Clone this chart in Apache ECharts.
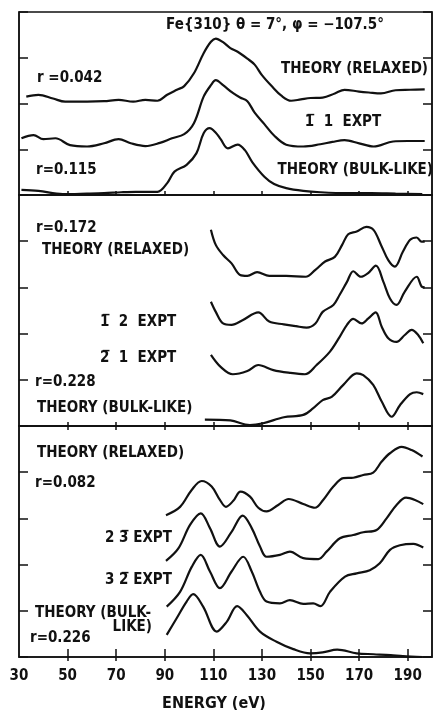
<!DOCTYPE html>
<html>
<head>
<meta charset="utf-8">
<script src="https://cdn.jsdelivr.net/npm/echarts@6/dist/echarts.min.js"></script>
<style>
  html, body { margin: 0; background: #fff; }
  #chart { width: 435px; height: 710px; }
</style>
</head>
<body>
<div id="chart"></div>
<script>
// energy axis (eV)
const energyLabels = [30, 50, 70, 90, 110, 130, 150, 170, 190];
const energyTicks = [50, 70, 90, 110, 130, 150, 170, 190];

// panel 1: [energy, intensity offset]
const p1Relaxed = [[33,2.15],[38,2.19],[44,2.11],[49,2.04],[58,2.04],[65,2.05],[71,2.08],[77,2.04],[82,2.08],[87,2.06],[91,2.19],[95,2.30],[98,2.38],[102,2.66],[106,3.10],[109,3.35],[111,3.42],[114,3.34],[117,3.21],[120,3.13],[124,2.98],[127,2.85],[130,2.62],[134,2.38],[138,2.17],[142,2.06],[146,2.09],[150,2.12],[155,2.13],[160,2.22],[164,2.30],[170,2.26],[174,2.24],[179,2.22],[185,2.29],[191,2.30],[197,2.31]];
const p1Expt = [[31,1.24],[36,1.31],[40,1.22],[45,1.24],[51,1.09],[58,1.06],[65,1.13],[71,1.22],[76,1.13],[82,1.07],[88,1.14],[93,1.24],[98,1.33],[102,1.57],[106,2.15],[109,2.40],[111,2.51],[114,2.40],[118,2.23],[121,2.13],[124,2.05],[127,1.80],[131,1.55],[135,1.30],[140,1.10],[147,1.06],[154,1.11],[159,1.16],[164,1.20],[170,1.13],[176,1.06],[184,1.17],[190,1.18],[197,1.18]];
const p1Bulk = [[31,0.11],[38,0.09],[48,0.02],[58,0.03],[65,0.04],[72,0.06],[78,0.07],[87,0.07],[91,0.26],[94,0.51],[99,0.66],[103,0.91],[106,1.35],[108.5,1.46],[111,1.36],[113,1.22],[116,1.02],[120,1.10],[123,0.98],[126,0.72],[131,0.40],[135,0.24],[140,0.15],[147,0.09],[154,0.06],[165,0.04],[175,0.04],[185,0.03],[196,0.02]];

// panel 2
const p2Relaxed = [[109,4.25],[111,3.92],[114,3.70],[117.5,3.52],[121,3.27],[124,3.25],[128,3.33],[133,3.25],[140,3.25],[148,3.23],[152,3.38],[156,3.56],[160,3.66],[163,3.92],[165.5,4.15],[169,4.21],[173,4.31],[176,4.24],[179,3.92],[182,3.59],[184.7,3.45],[188,3.77],[191,4.03],[193.7,4.08],[195.7,3.99],[197,3.99]];
const p2Expt12 = [[109,2.69],[111,2.47],[114,2.22],[117.5,2.19],[122,2.29],[128.5,2.46],[133,2.26],[139,2.20],[144,2.16],[148.4,2.13],[152,2.22],[155,2.47],[159.4,2.62],[162,2.84],[165,3.12],[167.6,3.35],[170.7,3.23],[173.7,3.31],[176.9,3.47],[180,3.12],[182.7,2.76],[185.4,2.62],[188.8,2.91],[193.7,3.23],[195.7,3.02],[197,3.00]];
const p2Expt21 = [[109,1.54],[113,1.28],[118,1.12],[124,1.19],[128.5,1.32],[134.7,1.21],[141.5,1.15],[147.7,1.12],[152.5,1.32],[158,1.61],[162,1.93],[165,2.19],[167.6,2.32],[171,2.22],[173.8,2.33],[176.8,2.46],[179.3,2.15],[182,1.90],[185.4,1.82],[188.8,1.97],[191.6,2.08],[194.3,1.97],[196.4,1.79]];
const p2Bulk = [[106.5,0.14],[117,0.12],[125,0.02],[130.5,0.06],[139,0.19],[147,0.24],[151,0.38],[155,0.56],[158.7,0.63],[163.5,0.89],[169,1.14],[171.7,1.10],[175.8,0.89],[179.3,0.53],[183.4,0.20],[186.8,0.45],[191,0.69],[193.7,0.73],[196.4,0.69]];

// panel 3
const p3Relaxed = [[90.5,3.07],[96.3,3.25],[101,3.61],[105.2,3.81],[109.3,3.69],[112.7,3.40],[115.2,3.25],[118.2,3.38],[121.2,3.58],[125.1,3.47],[128.5,3.23],[131.9,3.15],[136.7,3.29],[141,3.42],[147,3.31],[151.8,3.23],[155.2,3.40],[159.4,3.69],[163.5,3.87],[167.6,3.88],[171.7,3.94],[175.8,3.99],[179.3,4.23],[182.7,4.41],[187.5,4.55],[191.6,4.48],[196.1,4.34]];
const p3Expt23 = [[90.5,2.08],[95.6,2.35],[100.4,2.86],[104.8,3.11],[108.6,2.79],[112.7,2.39],[117.5,2.71],[122.1,3.06],[125.8,2.79],[129.2,2.39],[131.9,2.17],[137.4,2.21],[141.5,2.28],[147,2.14],[153.2,2.12],[156.6,2.28],[162.1,2.57],[167.6,2.64],[171.7,2.70],[177.2,2.75],[181.3,3.00],[185.4,3.29],[189.3,3.45],[193,3.40],[196.4,3.31]];
const p3Expt32 = [[90.8,1.09],[96.3,1.41],[101.1,1.95],[104.8,2.21],[108.6,1.85],[112.7,1.49],[117.5,1.85],[122.3,2.17],[125.8,1.85],[129.2,1.41],[131.9,1.20],[137.4,1.16],[141.5,1.23],[147,1.15],[151.1,1.16],[154.1,1.10],[158,1.41],[164.2,1.74],[169,1.81],[174.4,1.88],[178.5,2.03],[182.7,2.32],[186.8,2.42],[192.3,2.45],[196.4,2.37]];
const p3Bulk = [[90.8,0.48],[94.9,0.84],[99,1.20],[101.7,1.36],[105.8,1.09],[111.4,0.55],[115.5,0.76],[119.8,1.10],[123.7,0.91],[129.2,0.55],[136,0.33],[142.9,0.17],[149.8,0.08],[155,0.10],[161,0.16],[169,0.08],[176,0.06],[183,0.04],[188,0.02],[196,0.00]];

const panelMax = [4, 5, 5];
const curves = [
  [0, p1Relaxed], [0, p1Expt], [0, p1Bulk],
  [1, p2Relaxed], [1, p2Expt12], [1, p2Expt21], [1, p2Bulk],
  [2, p3Relaxed], [2, p3Expt23], [2, p3Expt32], [2, p3Bulk]
];

const ink = '#111';
const font = '"DejaVu Sans Condensed", "DejaVu Sans"';

const myChart = echarts.init(document.getElementById('chart'));

const grids = [
  { left: 19, right: 3, top: 12, height: 183 },
  { left: 19, right: 3, top: 195, height: 231 },
  { left: 19, right: 3, top: 426, height: 231 }
].map(g => Object.assign(g, { show: true, borderColor: ink, borderWidth: 1.5, backgroundColor: 'transparent' }));

const xAxes = [];
const yAxes = [];
grids.forEach((g, i) => {
  const last = i === grids.length - 1;
  xAxes.push({
    type: 'value', gridIndex: i, min: 30, max: 200, position: 'bottom',
    axisLine: { show: true, lineStyle: { color: ink, width: 1.5 } },
    axisTick: { show: true, inside: true, length: last ? 8 : 4, customValues: energyTicks, lineStyle: { color: ink, width: 1.5 } },
    axisLabel: last ? { show: true, customValues: energyLabels, fontFamily: font, fontWeight: 'bold', fontSize: 15, color: ink, margin: 12 } : { show: false },
    splitLine: { show: false }
  });
  if (i > 0) {
    xAxes.push({
      type: 'value', gridIndex: i, min: 30, max: 200, position: 'top',
      axisLine: { show: false },
      axisTick: { show: true, inside: true, length: 4, customValues: energyTicks, lineStyle: { color: ink, width: 1.5 } },
      axisLabel: { show: false }, splitLine: { show: false }
    });
  }
  ['left', 'right'].forEach(pos => {
    yAxes.push({
      type: 'value', gridIndex: i, min: 0, max: panelMax[i], interval: 1, position: pos,
      axisLine: { show: true, lineStyle: { color: ink, width: 1.5 } },
      axisTick: { show: true, inside: true, length: 9, lineStyle: { color: ink, width: 1.5 } },
      axisLabel: { show: false }, splitLine: { show: false }
    });
  });
});

// bottom x axis index of each grid
const xIndexOf = [0, 1, 3];

const series = curves.map(([panel, pts]) => ({
  type: 'line',
  xAxisIndex: xIndexOf[panel],
  yAxisIndex: panel * 2,
  data: pts,
  smooth: 0.35,
  showSymbol: false,
  lineStyle: { color: ink, width: 2.2 },
  silent: true
}));

// [text, x, y, align, size]
const labelTexts = [
  ['Fe{310} θ = 7°, φ = −107.5°', 275, 25, 'center', 15],
  ['r =0.042', 37, 78, 'left', 15],
  ['THEORY (RELAXED)', 428, 69, 'right', 15],
  ['1\u0305  1  EXPT', 343, 122, 'center', 15],
  ['r=0.115', 36, 170, 'left', 15],
  ['THEORY (BULK-LIKE)', 433, 170, 'right', 15],
  ['r=0.172', 36, 228, 'left', 15],
  ['THEORY (RELAXED)', 42, 250, 'left', 15],
  ['1\u0305  2  EXPT', 100, 322, 'left', 15],
  ['2\u0305  1  EXPT', 100, 358, 'left', 15],
  ['r=0.228', 35, 382, 'left', 15],
  ['THEORY (BULK-LIKE)', 37, 408, 'left', 15],
  ['THEORY (RELAXED)', 37, 453, 'left', 15],
  ['r=0.082', 35, 483, 'left', 15],
  ['2 3\u0305 EXPT', 105, 538, 'left', 15],
  ['3 2\u0305 EXPT', 105, 580, 'left', 15],
  ['THEORY (BULK-', 35, 613, 'left', 15],
  ['LIKE)', 152, 627, 'right', 15],
  ['r=0.226', 30, 638, 'left', 15],
  ['ENERGY (eV)', 214, 704, 'center', 16]
];

myChart.setOption({
  backgroundColor: '#fff',
  animation: false,
  grid: grids,
  xAxis: xAxes,
  yAxis: yAxes,
  series: series,
  graphic: labelTexts.map(([text, x, y, align, size]) => ({
    type: 'text', x: x, y: y, silent: true,
    style: { text: text, fill: ink, font: 'bold ' + size + 'px ' + font, textAlign: align, textVerticalAlign: 'middle' }
  }))
});
</script>
</body>
</html>
